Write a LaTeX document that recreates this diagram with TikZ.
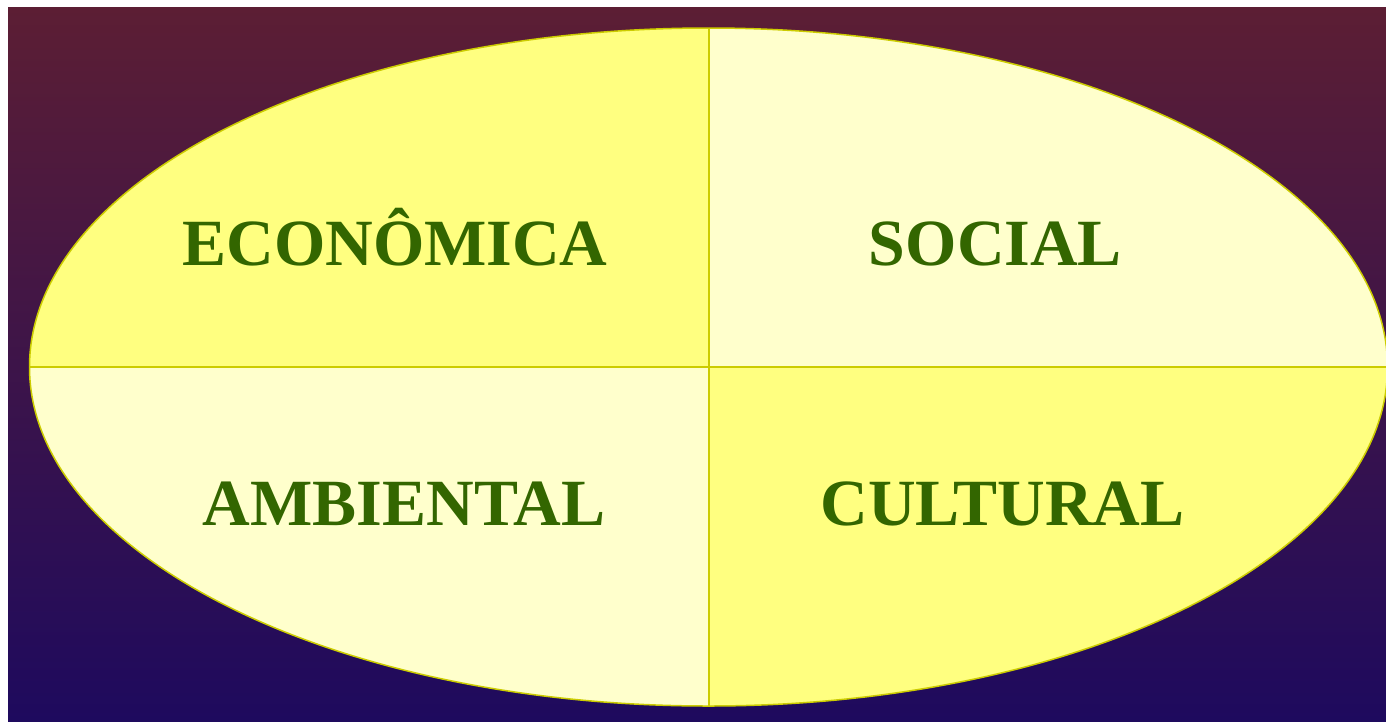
\documentclass[tikz,border=0pt]{standalone}
\usepackage{fontspec}
\setmainfont{Liberation Serif}
\usepackage{tikz}
\usetikzlibrary{calc,positioning}

\definecolor{bgtop}{RGB}{92,30,52}
\definecolor{bgbot}{RGB}{30,10,94}
\definecolor{strong}{RGB}{255,255,128}
\definecolor{pale}{RGB}{255,255,204}
\definecolor{rim}{RGB}{204,204,0}
\definecolor{word}{RGB}{51,102,0}

\begin{document}
\begin{tikzpicture}[x=1pt,y=-1pt,
  every text node part/.style={align=center},
  dim/.style={anchor=base,inner sep=0pt,text=word,font=\bfseries\fontsize{66}{66}\selectfont}]
\useasboundingbox (0,0) rectangle (1386,721);
\fill[white] (0,0) rectangle (1386,721);
\shade[top color=bgtop,bottom color=bgbot] (8,7) rectangle (1386,721);
\coordinate (c) at (708.5,367);
\begin{scope}
\clip (c) ellipse (679 and 339);
\fill[strong] (c) rectangle (20,20);
\fill[pale] (c) rectangle (1400,20);
\fill[pale] (c) rectangle (20,715);
\fill[strong] (c) rectangle (1400,715);
\draw[rim,line width=2pt] (708.5,20) -- (708.5,715);
\draw[rim,line width=2pt] (20,367) -- (1400,367);
\end{scope}
\draw[rim,line width=1.5pt] (c) ellipse (679 and 339);
\node[dim] (eco) at (395,265) {ECONÔMICA};
\node[dim] (soc) at (995.5,265) {SOCIAL};
\node[dim] (amb) at (404,525) {AMBIENTAL};
\node[dim] (cul) at (1002.5,525) {CULTURAL};
\end{tikzpicture}
\end{document}
